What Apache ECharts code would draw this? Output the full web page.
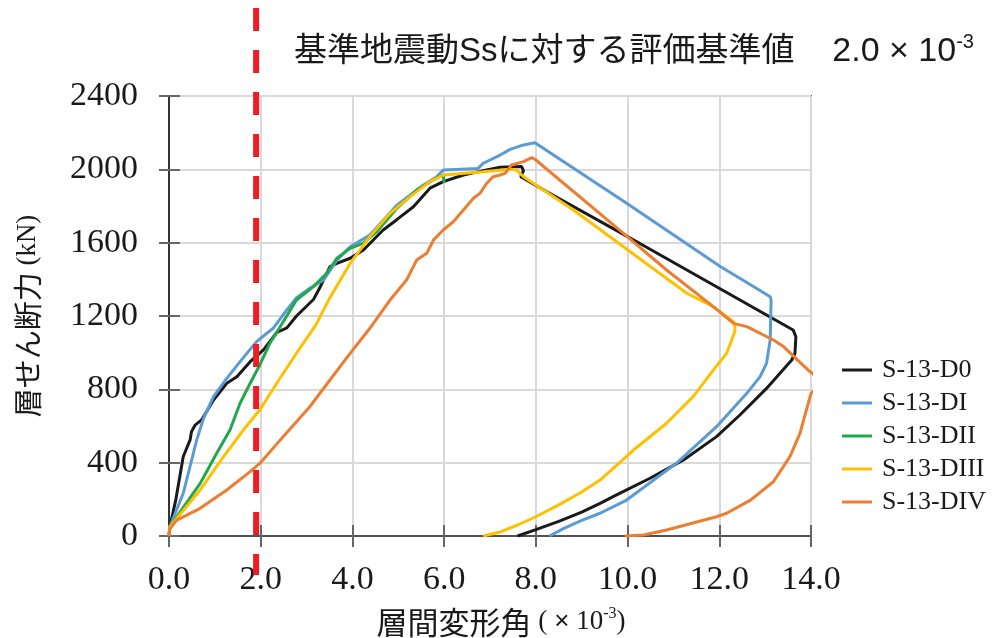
<!DOCTYPE html>
<html><head><meta charset="utf-8">
<script src="https://cdn.jsdelivr.net/npm/echarts@6/dist/echarts.min.js"></script>
<style>html,body{margin:0;padding:0;background:#fff}#c{width:992px;height:638px}</style>
</head><body><div id="c"></div>
<script>
// ---- data ----
const seriesNames = ['S-13-D0', 'S-13-DI', 'S-13-DII', 'S-13-DIII', 'S-13-DIV'];
const seriesColors = ['#1a1a1a', '#5B9BD5', '#21A84C', '#FFC000', '#ED7D31'];

const dataD0 = [[0,0],[0.02,51],[0.15,200],[0.31,432],[0.46,524],[0.49,569],[0.57,605],[0.71,633],[0.97,742],[1.26,833],[1.48,869],[1.77,951],[2.06,1015],[2.35,1110],[2.57,1135],[2.78,1200],[3.15,1290],[3.3,1360],[3.51,1469],[3.66,1487],[3.95,1515],[4.24,1560],[4.67,1669],[4.96,1724],[5.33,1796],[5.69,1897],[5.98,1933],[6.42,1969],[6.85,1993],[7.22,2011],[7.69,2015],[7.73,1993],[7.67,1960],[8.24,1878],[9.98,1636],[13.61,1124],[13.67,1087],[13.65,996],[13.58,960],[13.03,805],[12.45,660],[11.94,542],[11.22,415],[10.49,315],[9.76,224],[9.4,178],[9.0,130],[8.5,80],[8.0,35],[7.6,0]];

const dataDI = [[0,0],[0.02,51],[0.31,233],[0.5,420],[0.6,520],[0.75,640],[0.97,760],[1.26,860],[1.55,951],[1.91,1060],[2.27,1133],[2.57,1233],[2.78,1300],[3.07,1351],[3.37,1396],[3.66,1505],[3.95,1578],[4.38,1642],[4.68,1724],[4.97,1805],[5.55,1915],[5.84,1960],[5.98,1996],[6.74,2005],[6.85,2033],[7.0,2051],[7.22,2078],[7.44,2109],[7.73,2133],[7.98,2145],[9.98,1815],[12.03,1469],[12.69,1369],[13.11,1305],[13.13,1287],[13.11,1069],[13.03,942],[12.89,869],[12.60,778],[11.94,596],[11.07,398],[9.98,196],[9.4,124],[9.0,85],[8.6,40],[8.3,0]];

const dataDII = [[0,0],[0.02,51],[0.68,287],[1.04,451],[1.33,578],[1.55,724],[1.77,833],[1.98,933],[2.20,1051],[2.42,1140],[2.78,1287],[3.15,1360],[3.44,1433],[3.66,1515],[3.95,1569],[4.24,1597],[4.53,1660],[4.97,1787],[5.40,1887],[5.76,1942],[5.98,1969],[6.0,1975],[6.0,1925]];

const dataDIII = [[0,0],[0.02,51],[0.68,251],[1.19,433],[1.62,578],[1.98,687],[2.35,833],[2.78,997],[3.2,1150],[3.51,1300],[3.95,1487],[4.38,1633],[4.82,1760],[5.26,1851],[5.69,1933],[5.98,1969],[6.85,1987],[7.44,2000],[7.58,1996],[7.73,1960],[8.82,1778],[11.29,1324],[11.87,1251],[12.31,1169],[12.34,1142],[12.34,1115],[12.16,996],[11.87,905],[11.43,760],[10.85,615],[10.13,469],[9.4,305],[9.0,240],[8.5,170],[8.0,105],[7.6,60],[7.2,20],[6.85,0]];

const dataDIV = [[0,0],[0.02,40],[0.17,87],[0.68,151],[1.26,251],[1.77,351],[1.98,396],[2.49,542],[3.07,705],[3.51,851],[3.95,996],[4.38,1133],[4.82,1287],[5.18,1396],[5.40,1505],[5.62,1542],[5.77,1615],[5.98,1669],[6.20,1714],[6.42,1778],[6.64,1842],[6.78,1869],[6.93,1924],[7.07,1960],[7.22,1969],[7.33,1978],[7.47,2024],[7.73,2042],[7.91,2064],[7.98,2055],[9.91,1651],[10.85,1451],[11.87,1251],[12.31,1160],[12.60,1142],[13.18,1069],[13.40,1033],[13.94,905],[14.25,840],[14.0,778],[13.76,560],[13.54,433],[13.18,296],[12.68,196],[12.16,124],[11.94,105],[10.85,33],[10.35,5],[10.05,2],[9.94,0]];

const xMin = 0, xMax = 14, xInterval = 2;
const yMin = 0, yMax = 2400, yInterval = 400;
const refLineX = 1.9;   // evaluation criterion line (dashed red)
const refLineSpan = [1, 0];

const allData = [dataD0, dataDI, dataDII, dataDIII, dataDIV];

// ---- chart ----
const chart = echarts.init(document.getElementById('c'), null, {renderer: 'canvas'});
const serif = '"Liberation Serif", "Times New Roman", serif';
const sans = '"Liberation Sans", Arial, sans-serif';
const cjk = '"Noto Sans CJK JP", "Noto Sans CJK SC", sans-serif';

const lineSeries = seriesNames.map((n, i) => ({
  name: n, type: 'line', xAxisIndex: 0, yAxisIndex: 0,
  data: allData[i], showSymbol: false, symbol: 'none', clip: true,
  lineStyle: {color: seriesColors[i], width: 3}, itemStyle: {color: seriesColors[i]},
  z: 2 + i, animation: false
}));

const option = {
  animation: false,
  backgroundColor: '#ffffff',
  title: {
    text: '{a|基準地震動Ssに対する評価基準値}{b|    2.0 × 10}{s|-3}',
    left: 289, top: 27,
    textStyle: {
      fontWeight: 'normal',
      rich: {
        a: {fontFamily: '"Liberation Sans", "Noto Sans CJK JP", sans-serif', fontWeight: 'normal', fontSize: 33, color: '#1a1a1a', lineHeight: 40},
        b: {fontFamily: sans, fontWeight: 'normal', fontSize: 34, color: '#1a1a1a', lineHeight: 40},
        s: {fontFamily: sans, fontWeight: 'normal', fontSize: 20, color: '#1a1a1a', verticalAlign: 'top', lineHeight: 40}
      }
    }
  },
  legend: {
    data: seriesNames, orient: 'vertical', left: 837, top: 352,
    icon: 'rect', itemWidth: 30, itemHeight: 3, itemGap: 7,
    textStyle: {fontFamily: serif, fontSize: 26, color: '#1a1a1a', padding: [0, 0, 0, 5]}
  },
  grid: [
    {left: 169, right: 181, top: 96, bottom: 102, show: true, borderColor: '#666666', borderWidth: 2, backgroundColor: 'transparent', containLabel: false, outerBoundsMode: 'none'},
    {left: 169, right: 181, top: 8, bottom: 63, containLabel: false, outerBoundsMode: 'none'}
  ],
  xAxis: [
    {
      gridIndex: 0, type: 'value', min: xMin, max: xMax, interval: xInterval, position: 'bottom',
      axisLine: {show: true, onZero: false, lineStyle: {color: '#262626', width: 1.5}},
      axisTick: {show: true, inside: false, length: 11, lineStyle: {color: '#666', width: 2}},
      axisLabel: {formatter: v => v.toFixed(1), fontFamily: serif, fontSize: 34, color: '#1a1a1a', margin: 27},
      splitLine: {show: true, lineStyle: {color: '#d9d9d9', width: 2}},
      name: '{c|層間変形角}{r| (}{x| ×}{r| 10}{s|-3}{r|)}', nameLocation: 'middle', nameGap: 70,
      nameTextStyle: {
        padding: [0, 0, 0, 22],
        rich: {
          c: {fontFamily: cjk, fontSize: 31, color: '#1a1a1a', lineHeight: 32},
          r: {fontFamily: serif, fontSize: 27, color: '#1a1a1a', lineHeight: 32},
          x: {fontFamily: sans, fontSize: 26, color: '#1a1a1a', lineHeight: 32},
          s: {fontFamily: serif, fontSize: 16, color: '#1a1a1a', verticalAlign: 'top', lineHeight: 32}
        }
      }
    },
    {
      gridIndex: 0, type: 'value', min: xMin, max: xMax, interval: xInterval, position: 'bottom',
      axisLine: {show: false}, axisLabel: {show: false}, splitLine: {show: false},
      axisTick: {show: true, inside: true, length: 11, lineStyle: {color: '#666', width: 2}}
    },
    {gridIndex: 1, type: 'value', min: xMin, max: xMax, show: false}
  ],
  yAxis: [
    {
      gridIndex: 0, type: 'value', min: yMin, max: yMax, interval: yInterval, position: 'left',
      axisLine: {show: true, onZero: false, lineStyle: {color: '#333', width: 2}},
      axisTick: {show: true, inside: false, length: 10, lineStyle: {color: '#666', width: 2}},
      axisLabel: {formatter: v => String(v), fontFamily: serif, fontSize: 34, color: '#1a1a1a', margin: 31},
      splitLine: {show: true, lineStyle: {color: '#d9d9d9', width: 2}},
      name: '{c|層せん断力}{r| (kN)}', nameLocation: 'middle', nameGap: 127, nameRotate: 90,
      nameTextStyle: {
        rich: {
          c: {fontFamily: cjk, fontSize: 29, color: '#1a1a1a'},
          r: {fontFamily: serif, fontSize: 27, color: '#1a1a1a'}
        }
      }
    },
    {
      gridIndex: 0, type: 'value', min: yMin, max: yMax, interval: yInterval, position: 'left',
      axisLine: {show: false}, axisLabel: {show: false}, splitLine: {show: false},
      axisTick: {show: true, inside: true, length: 11, lineStyle: {color: '#666', width: 2}}
    },
    {gridIndex: 1, type: 'value', min: 0, max: 1, show: false}
  ],
  series: lineSeries.concat([{
    name: 'ref', type: 'line', xAxisIndex: 2, yAxisIndex: 2,
    data: refLineSpan.map(v => [refLineX, v]), showSymbol: false, symbol: 'none', clip: false,
    lineStyle: {color: '#EE1C25', width: 6, type: [23, 19], cap: 'butt'}, z: 20, silent: true
  }])
};
chart.setOption(option);
</script>
</body></html>
